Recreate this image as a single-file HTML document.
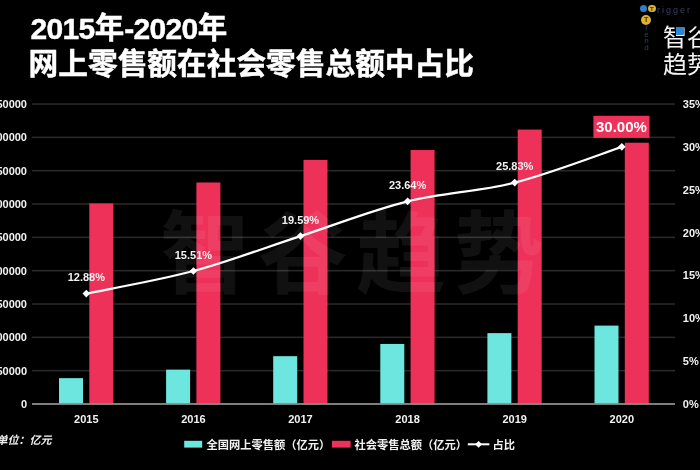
<!DOCTYPE html>
<html lang="zh-CN"><head><meta charset="utf-8"><title>2015年-2020年 网上零售额在社会零售总额中占比</title>
<style>
html,body{margin:0;padding:0;background:#000;}
body{width:700px;height:470px;overflow:hidden;position:relative;font-family:"Liberation Sans","Noto Sans CJK SC",sans-serif;color:#fff;}
#c{position:absolute;left:0;top:0;width:700px;height:470px;overflow:hidden;background:#000;filter:blur(0.45px)}
.t1,.t2{position:absolute;left:30px;font-weight:bold;white-space:nowrap;color:#fff;}
.t1{top:7.5px;left:30.5px;font-size:29.5px;line-height:42px;-webkit-text-stroke:0.45px #fff}
.t1 b{font-size:30px;letter-spacing:-0.65px}
.t1 i{font-style:normal;position:relative;top:-1px}
.t2{top:42.3px;left:28.6px;font-size:29.7px;line-height:44px;-webkit-text-stroke:0.45px #fff}
.al,.ar,.xl,.pl{position:absolute;font-size:11px;line-height:14px;font-weight:bold;white-space:nowrap;color:#f2f2f2}
.al{right:673px;text-align:right}
.ar{left:682.8px}
.xl{top:411.5px;width:60px;text-align:center}
.pl{width:60px;text-align:center}
.big{position:absolute;left:593.4px;top:115.8px;width:56.1px;height:22.1px;line-height:22px;text-align:center;font-size:15px;font-weight:bold;color:#fff}
.unit{position:absolute;left:-3.5px;top:432px;font-size:11px;line-height:16px;font-weight:bold;font-style:italic;white-space:nowrap;color:#eee}
.lg{position:absolute;top:437px;font-size:11.25px;line-height:16px;font-weight:bold;white-space:nowrap;color:#f2f2f2}
.wm{position:absolute;left:160px;top:190px;font-size:90px;line-height:130px;letter-spacing:8px;font-weight:700;color:rgba(255,255,255,0.065);white-space:nowrap}
.logo1{position:absolute;left:663px;top:23.2px;font-size:24px;line-height:30px;font-weight:400;white-space:nowrap;color:#f4f4f4}
.logo2{position:absolute;left:663px;top:49.8px;font-size:24px;line-height:30px;font-weight:400;white-space:nowrap;color:#f4f4f4}
.rg{position:absolute;left:657px;top:4px;font-size:9px;line-height:12px;letter-spacing:2.0px;color:#34405f;white-space:nowrap}
.rd{position:absolute;left:642.5px;top:25px;font-size:8px;line-height:6.6px;width:8px;text-align:center;color:#34405f;word-break:break-all}
.dot{position:absolute;border-radius:50%;font-size:6px;line-height:8px;text-align:center;font-weight:bold;color:#3a2c08;overflow:hidden}
.dot+.dot+.dot{font-size:7px;line-height:10px}
</style></head><body><div id="c">
<svg width="700" height="470" viewBox="0 0 700 470" style="position:absolute;left:0;top:0">
<rect x="32.0" y="369.87" width="643.0" height="1.6" fill="#292929"/>
<rect x="32.0" y="336.54" width="643.0" height="1.6" fill="#292929"/>
<rect x="32.0" y="303.21" width="643.0" height="1.6" fill="#292929"/>
<rect x="32.0" y="269.88" width="643.0" height="1.6" fill="#292929"/>
<rect x="32.0" y="236.55" width="643.0" height="1.6" fill="#292929"/>
<rect x="32.0" y="203.22" width="643.0" height="1.6" fill="#292929"/>
<rect x="32.0" y="169.89" width="643.0" height="1.6" fill="#292929"/>
<rect x="32.0" y="136.56" width="643.0" height="1.6" fill="#292929"/>
<rect x="32.0" y="103.23" width="643.0" height="1.6" fill="#292929"/>
<rect x="59.00" y="378.15" width="24.0" height="25.85" fill="#6ce6df"/>
<rect x="89.30" y="203.40" width="24.0" height="200.60" fill="#ee3158"/>
<rect x="166.10" y="369.63" width="24.0" height="34.37" fill="#6ce6df"/>
<rect x="196.40" y="182.48" width="24.0" height="221.52" fill="#ee3158"/>
<rect x="273.20" y="356.17" width="24.0" height="47.83" fill="#6ce6df"/>
<rect x="303.50" y="159.85" width="24.0" height="244.15" fill="#ee3158"/>
<rect x="380.30" y="343.96" width="24.0" height="60.04" fill="#6ce6df"/>
<rect x="410.60" y="150.03" width="24.0" height="253.97" fill="#ee3158"/>
<rect x="487.40" y="333.12" width="24.0" height="70.88" fill="#6ce6df"/>
<rect x="517.70" y="129.59" width="24.0" height="274.41" fill="#ee3158"/>
<rect x="594.50" y="325.61" width="24.0" height="78.39" fill="#6ce6df"/>
<rect x="624.80" y="142.71" width="24.0" height="261.29" fill="#ee3158"/>
<rect x="32.0" y="403.10" width="643.0" height="1.8" fill="#8c8c8c"/>
<rect x="593.4" y="115.8" width="56.1" height="22.1" fill="#ee3158"/>
<path d="M86.30,293.60 C104.15,289.84 157.70,280.64 193.40,271.06 C229.10,261.47 264.80,247.70 300.50,236.09 C336.20,224.47 371.90,210.29 407.60,201.37 C443.30,192.46 479.00,191.69 514.70,182.60 C550.40,173.51 603.95,152.81 621.80,146.86" fill="none" stroke="#fff" stroke-width="2.2" stroke-linecap="round"/>
<path d="M82.50,293.60 L86.30,289.80 L90.10,293.60 L86.30,297.40Z" fill="#fff"/>
<path d="M189.60,271.06 L193.40,267.26 L197.20,271.06 L193.40,274.86Z" fill="#fff"/>
<path d="M296.70,236.09 L300.50,232.29 L304.30,236.09 L300.50,239.89Z" fill="#fff"/>
<path d="M403.80,201.37 L407.60,197.57 L411.40,201.37 L407.60,205.17Z" fill="#fff"/>
<path d="M510.90,182.60 L514.70,178.80 L518.50,182.60 L514.70,186.40Z" fill="#fff"/>
<path d="M618.00,146.86 L621.80,143.06 L625.60,146.86 L621.80,150.66Z" fill="#fff"/>
<rect x="184.2" y="440.8" width="18" height="6.8" fill="#6ce6df"/>
<rect x="332" y="440.8" width="18.6" height="6.8" fill="#ee3158"/>
<rect x="467.8" y="443.3" width="21.6" height="2" fill="#fff"/>
<path d="M475.20,444.30 L478.60,440.90 L482.00,444.30 L478.60,447.70Z" fill="#fff"/>
</svg>
<div class="t1"><b>2015</b><i>年</i><b>-2020</b><i>年</i></div>
<div class="t2">网上零售额在社会零售总额中占比</div>
<div class="al" style="top:397.00px">0</div>
<div class="al" style="top:363.67px">50000</div>
<div class="al" style="top:330.34px">100000</div>
<div class="al" style="top:297.01px">150000</div>
<div class="al" style="top:263.68px">200000</div>
<div class="al" style="top:230.35px">250000</div>
<div class="al" style="top:197.02px">300000</div>
<div class="al" style="top:163.69px">350000</div>
<div class="al" style="top:130.36px">400000</div>
<div class="al" style="top:97.03px">450000</div>
<div class="ar" style="top:397.00px">0%</div>
<div class="ar" style="top:354.14px">5%</div>
<div class="ar" style="top:311.29px">10%</div>
<div class="ar" style="top:268.43px">15%</div>
<div class="ar" style="top:225.57px">20%</div>
<div class="ar" style="top:182.71px">25%</div>
<div class="ar" style="top:139.86px">30%</div>
<div class="ar" style="top:97.00px">35%</div>
<div class="xl" style="left:56.30px">2015</div>
<div class="xl" style="left:163.40px">2016</div>
<div class="xl" style="left:270.50px">2017</div>
<div class="xl" style="left:377.60px">2018</div>
<div class="xl" style="left:484.70px">2019</div>
<div class="xl" style="left:591.80px">2020</div>
<div class="pl" style="left:56.30px;top:270.10px">12.88%</div>
<div class="pl" style="left:163.40px;top:247.56px">15.51%</div>
<div class="pl" style="left:270.50px;top:212.59px">19.59%</div>
<div class="pl" style="left:377.60px;top:177.87px">23.64%</div>
<div class="pl" style="left:484.70px;top:159.10px">25.83%</div>
<div class="big">30.00%</div>
<div class="unit">单位：亿元</div>
<div class="lg" style="left:206.5px">全国网上零售额（亿元）</div>
<div class="lg" style="left:354.5px">社会零售总额（亿元）</div>
<div class="lg" style="left:492.5px">占比</div>
<div class="wm">智谷趋势</div>
<div class="dot" style="left:640px;top:5px;width:7px;height:7px;background:#2f7fd0"></div>
<div class="dot" style="left:648px;top:4.5px;width:7.5px;height:7.5px;background:#d9b13a">T</div>
<div class="dot" style="left:641.2px;top:14.5px;width:10px;height:10px;background:#e0b030">T</div>
<div class="rg">rigger</div>
<div class="rd">r e n d</div>
<div class="logo1">智谷</div>
<div class="logo2">趋势</div>
<div style="position:absolute;left:676px;top:27px;width:8px;height:8px;background:#2c86d8;border-radius:1px"></div>
</div></body></html>
